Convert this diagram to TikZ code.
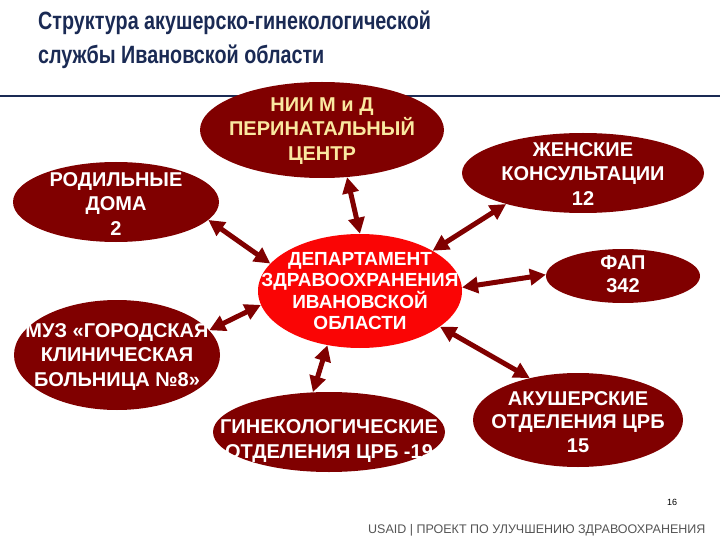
\documentclass[tikz,border=0pt]{standalone}
\usepackage{fontspec}
\setmainfont{Liberation Sans}
\usetikzlibrary{shapes.geometric,arrows.meta}
\definecolor{dred}{RGB}{128,0,0}
\definecolor{bred}{RGB}{250,5,5}
\definecolor{navy}{RGB}{26,42,84}
\definecolor{pale}{RGB}{250,232,160}
\definecolor{foot}{RGB}{85,85,85}
\begin{document}
\begin{tikzpicture}[x=1pt,y=-1pt,
  ell/.style={ellipse,fill=dred,draw=none,inner sep=0pt},
  lbl/.style={text=white,font=\bfseries\fontsize{20}{24.5}\selectfont,align=center,inner sep=0pt},
  ttl/.style={anchor=base west,inner sep=0pt,text=navy,font=\bfseries\fontsize{25}{30}\selectfont},
  link/.style={draw=dred,line width=5pt,{Triangle[length=16pt,width=16pt]}-{Triangle[length=16pt,width=16pt]}}]
\useasboundingbox (0,0) rectangle (720,540);
% title
\node[ttl] (t1) at (38,30) {\scalebox{0.79}[1]{Структура акушерско-гинекологической}};
\node[ttl] (t2) at (38,64) {\scalebox{0.79}[1]{службы Ивановской области}};
\draw[navy,line width=2pt] (0,96) -- (720,96);
% ellipses
\node[ell,minimum width=244pt,minimum height=96pt] (nii) at (322,130) {};
\node[ell,minimum width=206pt,minimum height=80pt] (rod) at (116,202) {};
\node[ell,minimum width=242pt,minimum height=80pt] (zhen) at (583,173) {};
\node[ell,fill=bred,minimum width=204pt,minimum height=114pt] (dept) at (360,291) {};
\node[ell,minimum width=206pt,minimum height=110pt] (muz) at (117,355) {};
\node[ell,minimum width=232pt,minimum height=80pt] (gin) at (329,432) {};
\node[ell,minimum width=154pt,minimum height=54pt] (fap) at (623,276) {};
\node[ell,minimum width=210pt,minimum height=94pt] (aku) at (578,420) {};
% connectors
\draw[link] (nii.-62) -- (dept.90);
\draw[link] (rod.-11) -- (dept.163);
\draw[link] (zhen.202) -- (dept.29);
\draw[link] (muz.15) -- (dept.188);
\draw[link] (gin.112) -- (dept.239);
\draw[link] (fap.179) -- (dept.2);
\draw[link] (aku.139) -- (dept.-24);
% labels
\node[lbl,text=pale] (niit) at ([yshift=-1pt]nii.center) {НИИ М и Д\\ПЕРИНАТАЛЬНЫЙ\\ЦЕНТР};
\node[lbl] (rodt) at ([yshift=-2pt]rod.center) {РОДИЛЬНЫЕ\\ДОМА\\2};
\node[lbl] (zhent) at ([yshift=-1pt]zhen.center) {ЖЕНСКИЕ\\КОНСУЛЬТАЦИИ\\12};
\node[lbl,font=\bfseries\fontsize{19}{21.5}\selectfont] (deptt) at (dept.center) {ДЕПАРТАМЕНТ\\ЗДРАВООХРАНЕНИЯ\\ИВАНОВСКОЙ\\ОБЛАСТИ};
\node[lbl] (muzt) at ([yshift=-2pt]muz.center) {МУЗ «ГОРОДСКАЯ\\КЛИНИЧЕСКАЯ\\БОЛЬНИЦА №8»};
\node[lbl] (gint) at ([yshift=-9pt]gin.center) {ГИНЕКОЛОГИЧЕСКИЕ\\ОТДЕЛЕНИЯ ЦРБ -19};
\node[lbl,font=\bfseries\fontsize{20}{23}\selectfont] (fapt) at ([yshift=2pt]fap.center) {ФАП\\342};
\node[lbl,font=\bfseries\fontsize{20}{23.5}\selectfont] (akut) at ([yshift=-2pt]aku.center) {АКУШЕРСКИЕ\\ОТДЕЛЕНИЯ ЦРБ\\15};
% footer
\node[font=\fontsize{9}{10}\selectfont,inner sep=0pt] (num) at (672,502) {16};
\node[font=\fontsize{12.5}{14}\selectfont,text=foot,anchor=west,inner sep=0pt] (usaid) at (368,530) {USAID | ПРОЕКТ ПО УЛУЧШЕНИЮ ЗДРАВООХРАНЕНИЯ};
\end{tikzpicture}
\end{document}
